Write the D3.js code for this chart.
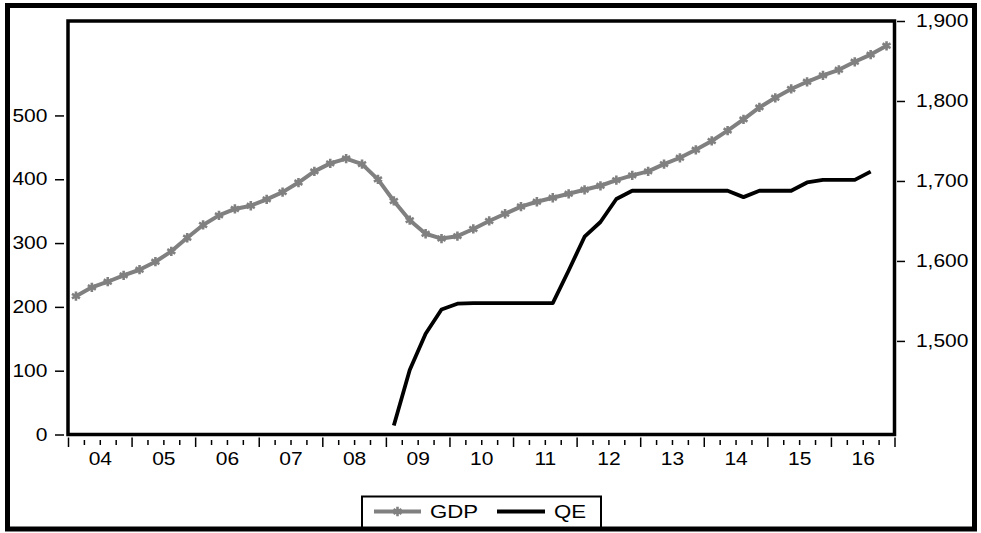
<!DOCTYPE html>
<html>
<head>
<meta charset="utf-8">
<script src="https://cdn.jsdelivr.net/npm/d3@7"></script>
<style>
  html, body { margin: 0; padding: 0; background: #fff; }
  svg { display: block; }
  text { font-family: "Liberation Sans", Arial, sans-serif; fill: #000; }
</style>
</head>
<body>
<svg id="chart" width="981" height="533"></svg>
<script>
// ---------------- DATA ----------------
const quarters = [
  "2004Q1","2004Q2","2004Q3","2004Q4","2005Q1","2005Q2","2005Q3","2005Q4",
  "2006Q1","2006Q2","2006Q3","2006Q4","2007Q1","2007Q2","2007Q3","2007Q4",
  "2008Q1","2008Q2","2008Q3","2008Q4","2009Q1","2009Q2","2009Q3","2009Q4",
  "2010Q1","2010Q2","2010Q3","2010Q4","2011Q1","2011Q2","2011Q3","2011Q4",
  "2012Q1","2012Q2","2012Q3","2012Q4","2013Q1","2013Q2","2013Q3","2013Q4",
  "2014Q1","2014Q2","2014Q3","2014Q4","2015Q1","2015Q2","2015Q3","2015Q4",
  "2016Q1","2016Q2","2016Q3","2016Q4"
];
const yearLabels = ["04","05","06","07","08","09","10","11","12","13","14","15","16"];

// GDP (right axis)
const gdp = [
  1556,1567,1574,1582,1589,1599,1612,1629,
  1645,1657,1665,1669,1677,1686,1698,1712,
  1722,1728,1721,1702,1675,1651,1634,1628,
  1631,1640,1650,1659,1668,1674,1679,1684,
  1689,1694,1701,1707,1712,1721,1729,1739,
  1750,1763,1777,1792,1804,1815,1824,1832,
  1839,1849,1858,1869
];
// QE (left axis), starts 2009Q1, ends 2016Q3
const qe = [
  null,null,null,null,null,null,null,null,
  null,null,null,null,null,null,null,null,
  null,null,null,null,14,101,158,196,
  205,206,206,206,206,206,206,257,
  310,333,369,382,382,382,382,382,
  382,382,372,382,382,382,395,399,
  399,399,412,null
];
const leftTicks = [0,100,200,300,400,500];
const rightTicks = [1500,1600,1700,1800,1900];
const seriesNames = ["GDP","QE"];

// ---------------- LAYOUT ----------------
const svg = d3.select("#chart");
const plot = {left: 68, top: 21, right: 894.5, bottom: 434.5};
const SX = 1.2;        // horizontal text stretch of the original
const FS = 17.5;

const x = d3.scaleLinear().domain([0, quarters.length]).range([plot.left, plot.right]);
const yL = d3.scaleLinear().domain([0, 648]).range([plot.bottom, plot.top]);
const yR = d3.scaleLinear().domain([1383, 1900]).range([plot.bottom, plot.top]);

// outer frame
svg.append("rect").attr("x", 7.5).attr("y", 5.5).attr("width", 967).attr("height", 523.5)
  .attr("fill", "#fff").attr("stroke", "#000").attr("stroke-width", 5);

// lines
const lineQE = d3.line().defined(d => d != null)
  .x((d, i) => x(i + 0.5)).y(d => yL(d));
const lineGDP = d3.line().x((d, i) => x(i + 0.5)).y(d => yR(d));

svg.append("path").datum(gdp).attr("d", lineGDP)
  .attr("fill", "none").attr("stroke", "#808080").attr("stroke-width", 4)
  .attr("stroke-linejoin", "round");

const marker = d3.symbol(d3.symbolAsterisk, 60);
svg.append("g").selectAll("path").data(gdp).join("path")
  .attr("transform", (d, i) => `translate(${x(i + 0.5)},${yR(d)})`)
  .attr("d", marker).attr("fill", "none").attr("stroke", "#808080").attr("stroke-width", 2.6);

svg.append("path").datum(qe).attr("d", lineQE)
  .attr("fill", "none").attr("stroke", "#000").attr("stroke-width", 3.8)
  .attr("stroke-linejoin", "round");

// plot frame
svg.append("rect").attr("x", plot.left).attr("y", plot.top)
  .attr("width", plot.right - plot.left).attr("height", plot.bottom - plot.top)
  .attr("fill", "none").attr("stroke", "#000").attr("stroke-width", 3.5);

function styleAxis(g) {
  g.select(".domain").remove();
  g.selectAll("line").attr("stroke", "#000").attr("stroke-width", 1.5);
  g.selectAll("text").attr("font-size", FS).attr("font-family", null)
    .attr("transform", `scale(${SX},1)`);
}

// left axis
svg.append("g").attr("transform", "translate(64,0)")
  .call(d3.axisLeft(yL).tickValues(leftTicks).tickSize(9).tickPadding(4.8).tickFormat(d3.format("d")))
  .call(styleAxis);

// right axis
svg.append("g").attr("transform", "translate(897,0)")
  .call(d3.axisRight(yR).tickValues(rightTicks).tickSize(8).tickPadding(7.8).tickFormat(d3.format(",")))
  .call(styleAxis);

// bottom axis: minor (quarters) and major (years) ticks
const allQ = d3.range(0, quarters.length + 1);
svg.append("g").attr("transform", "translate(0,440)")
  .call(d3.axisBottom(x).tickValues(allQ.filter(i => i % 4 !== 0)).tickSize(5).tickFormat(""))
  .call(styleAxis);
svg.append("g").attr("transform", "translate(0,437.5)")
  .call(d3.axisBottom(x).tickValues(allQ.filter(i => i % 4 === 0)).tickSize(9.5).tickFormat(""))
  .call(styleAxis);
svg.append("g").attr("transform", "translate(0,437.5)")
  .call(d3.axisBottom(x).tickValues(yearLabels.map((d, i) => i * 4 + 2)).tickSize(0).tickPadding(15)
    .tickFormat((d, i) => yearLabels[i]))
  .call(styleAxis);

// legend
const lg = svg.append("g");
lg.append("rect").attr("x", 362).attr("y", 496.5).attr("width", 239).attr("height", 31)
  .attr("fill", "#fff").attr("stroke", "#000").attr("stroke-width", 2);
lg.append("line").attr("x1", 374).attr("x2", 421).attr("y1", 511.5).attr("y2", 511.5)
  .attr("stroke", "#808080").attr("stroke-width", 4);
lg.append("path").attr("transform", "translate(397.5,511.5)").attr("d", marker)
  .attr("fill", "none").attr("stroke", "#808080").attr("stroke-width", 2.6);
lg.append("text").attr("transform", `translate(430,518) scale(${SX},1)`)
  .attr("font-size", FS + 1).text(seriesNames[0]);
lg.append("line").attr("x1", 497).attr("x2", 545).attr("y1", 511.5).attr("y2", 511.5)
  .attr("stroke", "#000").attr("stroke-width", 3.8);
lg.append("text").attr("transform", `translate(554,518) scale(${SX},1)`)
  .attr("font-size", FS + 1).text(seriesNames[1]);
</script>
</body>
</html>
